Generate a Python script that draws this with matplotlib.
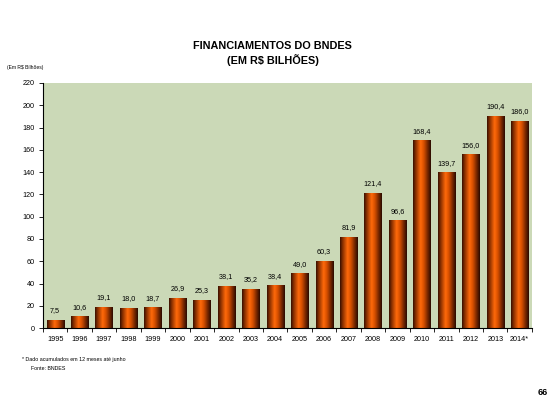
import numpy as np
import matplotlib
matplotlib.use('Agg')
import matplotlib.pyplot as plt
from matplotlib.colors import LinearSegmentedColormap

plt.rcParams['font.family'] = ['Liberation Sans', 'DejaVu Sans']

anos = ['1995', '1996', '1997', '1998', '1999', '2000', '2001', '2002', '2003', '2004',
        '2005', '2006', '2007', '2008', '2009', '2010', '2011', '2012', '2013', '2014*']
valores = [7.5, 10.6, 19.1, 18.0, 18.7, 26.9, 25.3, 38.1, 35.2, 38.4,
           49.0, 60.3, 81.9, 121.4, 96.6, 168.4, 139.7, 156.0, 190.4, 186.0]
yticks = list(range(0, 221, 20))

fig = plt.figure(figsize=(5.57, 4.19), dpi=100)
ax = fig.add_axes([0.077, 0.217, 0.878, 0.585])
ax.set_facecolor('#cbd9b7')

# gradiente horizontal das barras (escuro - laranja - escuro)
cmap = LinearSegmentedColormap.from_list('barra', [
    (0.0, '#3a1000'), (0.15, '#8a3000'), (0.42, '#ff6a0a'),
    (0.6, '#d85000'), (0.85, '#6a2200'), (1.0, '#2a0a00')])
grad = np.linspace(0, 1, 64).reshape(1, -1)

x = np.arange(len(anos))
bars = ax.bar(x, valores, width=0.7, color='none', edgecolor='none')
for b in bars:
    x0 = b.get_x()
    im = ax.imshow(grad, extent=[x0, x0 + b.get_width(), 0, b.get_height()],
                   aspect='auto', cmap=cmap, zorder=2)
    im.set_clip_path(b)

for xi, v in zip(x, valores):
    ax.text(xi, v + 5, f'{v:.1f}'.replace('.', ','), ha='center', va='bottom',
            fontsize=5.2)

ax.set_xlim(-0.5, len(anos) - 0.5)
ax.set_ylim(0, 220)
ax.set_yticks(yticks)
ax.set_yticklabels([str(t) for t in yticks], fontsize=5.2)
ax.set_xticks(x)
ax.set_xticklabels(anos, fontsize=5.2)
ax.set_xticks(np.arange(-0.5, len(anos), 1), minor=True)
ax.tick_params(axis='x', which='major', length=0, pad=5.5)
ax.tick_params(axis='x', which='minor', length=3, width=0.6, direction='out')
ax.tick_params(axis='y', length=3, width=0.6, direction='out', pad=3)
for s in ['top', 'right']:
    ax.spines[s].set_visible(False)
for s in ['left', 'bottom']:
    ax.spines[s].set_linewidth(0.8)

fig.text(0.49, 0.883, 'FINANCIAMENTOS DO BNDES', ha='center', fontsize=7.8,
         fontweight='bold')
fig.text(0.49, 0.848, '(EM R$ BILHÕES)', ha='center', fontsize=7.8,
         fontweight='bold')
fig.text(0.012, 0.836, '(Em R$ Bilhões)', fontsize=3.6)
fig.text(0.04, 0.139, '* Dado acumulados em 12 meses até junho', fontsize=3.8)
fig.text(0.055, 0.118, 'Fonte: BNDES', fontsize=3.8)
fig.text(0.965, 0.057, '66', ha='left', fontsize=6.5, fontweight='bold')

fig.savefig('out.png', dpi=100)
